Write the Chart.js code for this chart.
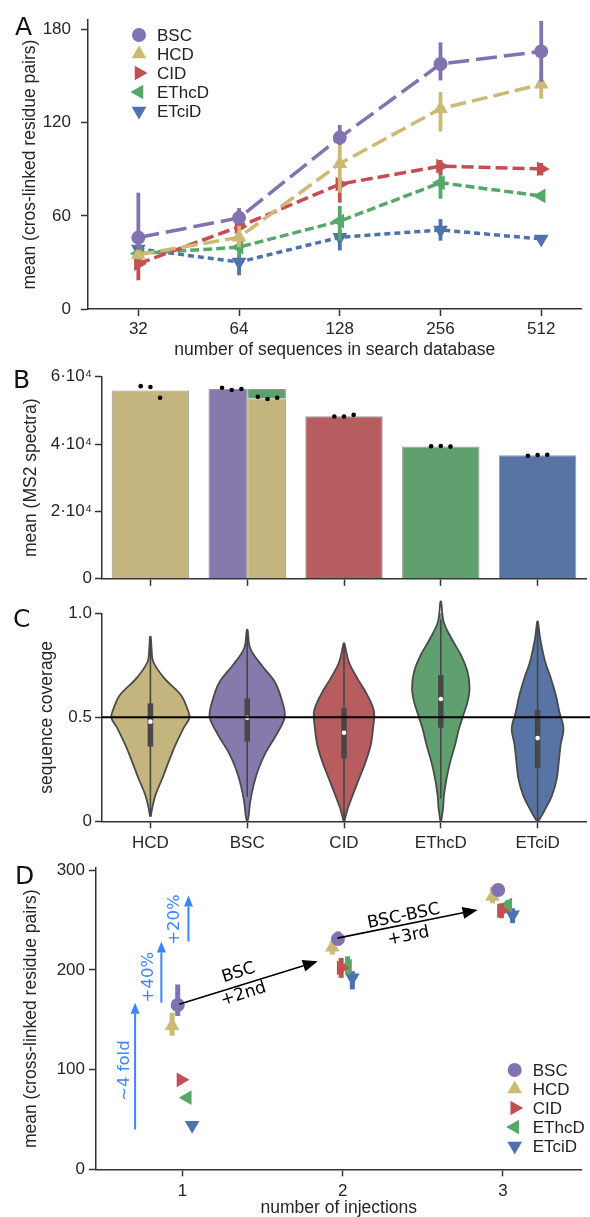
<!DOCTYPE html>
<html><head><meta charset="utf-8">
<script src="https://cdn.jsdelivr.net/npm/chart.js@4.4.1/dist/chart.umd.min.js"></script>
<style>
html,body{margin:0;padding:0;background:#fff;width:590px;height:1217px;overflow:hidden;position:relative;}
canvas{position:absolute;left:0;}
</style></head><body>
<canvas id="cA" width="590" height="360" style="top:0px"></canvas>
<canvas id="cB" width="590" height="232" style="top:360px"></canvas>
<canvas id="cC" width="590" height="262" style="top:592px"></canvas>
<canvas id="cD" width="590" height="363" style="top:854px"></canvas>
<script>
// ================= DATA =================
const methods = ['BSC','HCD','CID','EThcD','ETciD'];
const lineColors = ['#8172B2','#CCB974','#C44E52','#55A868','#4C72B0'];
const markerStyles = ['circle','triangle','triangle','triangle','triangle'];
const markerRot = [0,0,90,270,180];
const markerRadius = [7,8.5,8.5,8.5,8.5];
const dashes = [[21,7],[16,6],[12,5],[9,4],[6,4]];

// Panel A
const dbSizes = ['32','64','128','256','512'];
const yTicksA = [0,60,120,180];
const bscA   = [46.0, 58.7, 110.4, 157.8, 165.9];
const bscALo = [38.0, 55.0, 105.7, 147.2, 146.3];
const bscAHi = [74.9, 65.0, 118.5, 171.7, 185.5];
const hcdA   = [35.0, 46.2, 93.6, 129.0, 144.7];
const hcdALo = [32.0, 39.8, 74.9, 114.3, 135.5];
const hcdAHi = [38.5, 53.6, 111.0, 139.8, 153.6];
const cidA   = [29.2, 53.0, 80.4, 92.0, 90.2];
const cidALo = [18.5, 46.0, 68.5, 86.6, 86.0];
const cidAHi = [40.8, 63.0, 84.4, 96.0, 94.0];
const ethcdA   = [35.7, 39.8, 56.6, 81.3, 72.8];
const ethcdALo = [29.0, 33.4, 44.0, 71.0, 71.0];
const ethcdAHi = [45.0, 44.0, 66.4, 95.0, 74.5];
const etcidA   = [38.7, 30.2, 46.2, 50.9, 45.1];
const etcidALo = [36.0, 21.7, 37.7, 44.0, 43.5];
const etcidAHi = [41.0, 33.4, 50.4, 57.9, 46.5];

// Panel B
const barCats = ['HCD','BSC','CID','EThcD','ETciD'];
const barColors = ['#C4B47E','#857AAB','#B75C5F','#60A06F','#5874A4'];
const ms2Mean = [55870, null, 48280, 39250, 36650];
const ms2BscMean = 56360;
const ms2BscHcdPart = 53560;
const ms2BscEthcdPart = 2800;
const ms2Reps = [[57200,56960,53770],[56740,56070,56360],[48190,48190,48660],[39340,39420,39250],[36540,36740,36830]];
const ms2BscHcdReps = [54060,53390,53770];
const yTicksB = [0,20000,40000,60000];
const yTickLabelsB = ['0','2·10⁴','4·10⁴','6·10⁴'];

// Panel C (violin outlines: coverage levels and half-widths in category units)
const violinCats = ['HCD','BSC','CID','EThcD','ETciD'];
const hcdLv = [0.022,0.062,0.126,0.207,0.287,0.367,0.447,0.498,0.543,0.607,0.687,0.767,0.83,0.887];
const hcdW  = [0.004,0.018,0.052,0.124,0.189,0.259,0.341,0.403,0.380,0.315,0.145,0.029,0.012,0.004];
const bscLv = [0.0,0.03,0.094,0.175,0.255,0.335,0.415,0.503,0.591,0.671,0.751,0.832,0.92];
const bscW  = [0.004,0.016,0.031,0.067,0.119,0.196,0.300,0.388,0.352,0.284,0.147,0.031,0.004];
const cidLv = [0.0,0.062,0.126,0.207,0.287,0.367,0.447,0.527,0.607,0.687,0.767,0.856];
const cidW  = [0.004,0.039,0.090,0.158,0.224,0.276,0.300,0.310,0.241,0.138,0.049,0.004];
const ethcdLv = [0.0,0.062,0.126,0.207,0.287,0.367,0.447,0.511,0.575,0.639,0.719,0.80,0.88,0.96,1.056];
const ethcdW  = [0.004,0.023,0.033,0.060,0.098,0.147,0.189,0.233,0.276,0.297,0.276,0.207,0.109,0.029,0.004];
const etcidLv = [0.0,0.014,0.062,0.126,0.207,0.287,0.367,0.447,0.527,0.607,0.687,0.767,0.88,0.96];
const etcidW  = [0.004,0.026,0.083,0.150,0.199,0.219,0.238,0.267,0.224,0.188,0.138,0.078,0.026,0.004];
const covQ1  = [0.359,0.383,0.303,0.450,0.255];
const covQ3  = [0.567,0.591,0.543,0.703,0.535];
const covMed = [0.479,0.498,0.426,0.588,0.400];
const covWLo = [0.03,0.118,0.0,0.11,0.0];
const covWHi = [0.87,0.90,0.84,0.97,0.94];
const refLine = 0.5;
const yTicksC = [0,0.5,1.0];
const yTickLabelsC = ['0','0.5','1.0'];

// Panel D
const injections = ['1','2','3'];
const dodgeD = [-0.03,-0.065,-0.01,0.03,0.06];
const bscD = [164.8,230.9,280.1], bscDLo = [153.8,225.3,276.5], bscDHi = [185.4,238.6,283.5];
const hcdD = [143.9,222.6,273.5], hcdDLo = [134.0,215.3,266.8], hcdDHi = [157.0,228.6,283.4];
const cidD = [89.7,202.0,259.2], cidDLo = [87.5,192.0,251.8], cidDHi = [92.0,212.0,266.8];
const ethcdD = [71.8,203.7,265.2], ethcdDLo = [70.5,195.4,258.5], ethcdDHi = [73.5,213.6,270.2];
const etcidD = [44.2,192.0,255.2], etcidDLo = [43.2,180.4,246.9], etcidDHi = [45.2,198.7,261.8];
const yTicksD = [0,100,200,300];
// annotations (data coordinates)
const blueArrowX   = [0.704, 0.868, 1.037];
const blueArrowY0  = [40, 167, 228.5];
const blueArrowY1  = [167, 228.5, 274.5];
const blueText     = ['~4 fold','+40%','+20%'];
const blueTextX    = [0.64, 0.79, 0.954];
const blueTextY    = [99, 192.7, 250.5];
const blackArrowFrom = [[0.979,165.5],[1.967,231.9]];
const blackArrowTo   = [[1.844,208.7],[2.842,260.2]];
const blackTextTop   = ['BSC','BSC-BSC'];
const blackTextBot   = ['+2nd','+3rd'];
const blackTopPos    = [[1.35,197],[2.38,253.6]];
const blackBotPos    = [[1.38,175.5],[2.41,233.7]];

// ================= STYLE / HELPERS =================
const LS = "'Liberation Sans', Arial, sans-serif";
const DJ = "'DejaVu Sans', sans-serif";
const AX = '#333333';
const TXT = '#262626';

const errorBars = {
  id: 'errorBars',
  beforeDatasetDraw(chart, args) {
    const ds = chart.data.datasets[args.index];
    if (!ds.errLo) return;
    const ys = chart.scales.y, ctx = chart.ctx;
    ctx.save();
    ctx.strokeStyle = ds.errColor;
    ctx.lineWidth = ds.errWidth;
    args.meta.data.forEach((pt, i) => {
      const lo = ds.errLo[i], hi = ds.errHi[i];
      if (lo == null) return;
      ctx.beginPath();
      ctx.moveTo(pt.x, ys.getPixelForValue(lo));
      ctx.lineTo(pt.x, ys.getPixelForValue(hi));
      ctx.stroke();
    });
    ctx.restore();
  }
};

const deco = {
  id: 'deco',
  afterDraw(chart, args, o) {
    const ctx = chart.ctx;
    ctx.save();
    if (o.letter) {
      ctx.font = `25px ${DJ}`; ctx.fillStyle = '#111';
      ctx.textBaseline = 'alphabetic'; ctx.textAlign = 'left';
      ctx.fillText(o.letter, o.lx, o.ly);
    }
    if (o.legend) {
      const L = o.legend;
      ctx.font = `17px ${LS}`; ctx.textBaseline = 'middle'; ctx.textAlign = 'left';
      methods.forEach((lab, i) => {
        const y = L.y + i * L.dy;
        ctx.fillStyle = lineColors[i];
        Chart.helpers.drawPoint(ctx, {pointStyle: markerStyles[i], rotation: markerRot[i], radius: markerRadius[i], borderWidth: 0}, L.mx, y);
        ctx.fillStyle = '#222';
        ctx.fillText(lab, L.tx, y + 1);
      });
    }
    ctx.restore();
  }
};

function xScale(min, max, labels, firstVal, height, pad, title, titlePad) {
  return {
    type: 'linear', min, max, offset: false,
    afterBuildTicks(s) { s.ticks = labels.map((_, i) => ({value: firstVal + i})); },
    afterFit(s) { s.height = height; },
    ticks: { autoSkip: false, maxRotation: 0, padding: pad, color: TXT,
             font: {family: LS, size: 17},
             callback: (v) => labels[Math.round(v - firstVal)] },
    grid: { display: true, offset: false, drawOnChartArea: false, drawTicks: true, tickLength: 7, tickWidth: 1.5, tickColor: AX, color: AX },
    border: { display: true, color: AX, width: 1.5 },
    title: title ? { display: true, text: title, color: TXT, font: {family: LS, size: 17.5, lineHeight: 1.0}, padding: {top: 0, bottom: titlePad} } : { display: false }
  };
}
function yScale(min, max, tickVals, tickLabels, width, pad, title, titlePad) {
  return {
    type: 'linear', min, max,
    afterBuildTicks(s) { s.ticks = tickVals.map(v => ({value: v})); },
    afterFit(s) { s.width = width; },
    ticks: { autoSkip: false, padding: pad, color: TXT, font: {family: LS, size: 17},
             callback: (v) => { const k = tickVals.indexOf(v); return k >= 0 ? tickLabels[k] : ''; } },
    grid: { display: true, drawOnChartArea: false, drawTicks: true, tickLength: 7, tickWidth: 1.5, tickColor: AX, color: AX },
    border: { display: true, color: AX, width: 1.5 },
    title: { display: true, text: title, color: TXT, font: {family: LS, size: 17.5, lineHeight: 1.2}, padding: {top: titlePad, bottom: 0} }
  };
}
const baseOpts = { responsive: false, animation: false, events: [], devicePixelRatio: 1 };

// ================= PANEL A =================
const aVals = [bscA, hcdA, cidA, ethcdA, etcidA];
const aLo = [bscALo, hcdALo, cidALo, ethcdALo, etcidALo];
const aHi = [bscAHi, hcdAHi, cidAHi, ethcdAHi, etcidAHi];
new Chart(document.getElementById('cA'), {
  type: 'line',
  data: { datasets: methods.map((m, k) => ({
    label: m,
    data: aVals[k].map((v, i) => ({x: i, y: v})),
    borderColor: lineColors[k], borderWidth: 3.5, borderDash: dashes[k], borderCapStyle: 'butt',
    pointStyle: markerStyles[k], pointRotation: markerRot[k], pointRadius: markerRadius[k],
    pointBackgroundColor: lineColors[k], pointBorderWidth: 0, fill: false, tension: 0, clip: false,
    errLo: aLo[k], errHi: aHi[k], errColor: lineColors[k], errWidth: 3.8
  })) },
  options: Object.assign({}, baseOpts, {
    layout: { padding: { top: 17.6, right: 4, left: 0, bottom: 0 } },
    scales: {
      x: xScale(-0.5, 4.4, dbSizes, 0, 51, 3, 'number of sequences in search database', 1.5),
      y: yScale(0, 186, yTicksA, yTicksA.map(String), 88, 10, 'mean (cros-linked residue pairs)', 19.5)
    },
    plugins: { legend: {display: false}, tooltip: {enabled: false},
      deco: { letter: 'A', lx: 15, ly: 35, legend: { y: 35, dy: 19, mx: 139, tx: 157 } } }
  }),
  plugins: [errorBars, deco]
});

// ================= PANEL B =================
const nullExcept = (idx, val) => barCats.map((_, i) => ({x: i, y: i === idx ? val : null}));
const dotJitter = [-0.1, 0, 0.1];
const dotPts = [];
ms2Reps.forEach((reps, i) => {
  const c = i === 1 ? i - 0.16 : i;
  reps.forEach((v, j) => dotPts.push({x: c + dotJitter[j], y: v}));
});
ms2BscHcdReps.forEach((v, j) => dotPts.push({x: 1.21 + dotJitter[j], y: v}));
const barBorder = 'rgba(110,110,110,0.7)';
new Chart(document.getElementById('cB'), {
  type: 'bar',
  data: { datasets: [
    { type: 'scatter', data: dotPts, pointRadius: 2.3, pointBackgroundColor: '#000', pointBorderWidth: 0, showLine: false, clip: false, order: 0 },
    { data: ms2Mean.map((v, i) => ({x: i, y: v})), backgroundColor: barColors, borderColor: barBorder, borderWidth: 1, stack: 'main', order: 1 },
    { data: nullExcept(1, ms2BscMean), backgroundColor: barColors[1], borderColor: barBorder, borderWidth: 1, stack: 'bsc', order: 2 },
    { data: nullExcept(1, ms2BscHcdPart), backgroundColor: barColors[0], borderColor: barBorder, borderWidth: 1, stack: 'split', order: 3 },
    { data: nullExcept(1, ms2BscEthcdPart), backgroundColor: barColors[3], borderColor: barBorder, borderWidth: 1, stack: 'split', order: 4 }
  ] },
  options: Object.assign({}, baseOpts, {
    skipNull: true,
    datasets: { bar: { categoryPercentage: 0.8, barPercentage: 1.0, grouped: true, skipNull: true } },
    layout: { padding: { top: 16.7, right: 4, left: 0, bottom: 0 } },
    scales: {
      x: xScale(-0.5, 4.5, barCats.map(() => ''), 0, 7.7, 0, null, 0),
      y: yScale(0, 60000, yTicksB, yTickLabelsB, 102, 3, 'mean (MS2 spectra)', 20.5)
    },
    plugins: { legend: {display: false}, tooltip: {enabled: false}, deco: { letter: 'B', lx: 13, ly: 28 } }
  }),
  plugins: [deco]
});

// ================= PANEL C =================
const violinLv = [hcdLv, bscLv, cidLv, ethcdLv, etcidLv];
const violinW = [hcdW, bscW, cidW, ethcdW, etcidW];
function violinOutline(center, lv, w) {
  const left = lv.map((y, i) => ({x: center - w[i], y}));
  const right = lv.map((y, i) => ({x: center + w[i], y})).reverse();
  return left.concat(right);
}
const violinBox = {
  id: 'violinBox',
  afterDatasetsDraw(chart) {
    const xs = chart.scales.x, ys = chart.scales.y, ctx = chart.ctx;
    ctx.save();
    ctx.lineCap = 'butt';
    covQ1.forEach((q1, i) => {
      const x = xs.getPixelForValue(i);
      ctx.strokeStyle = '#474747';
      ctx.lineWidth = 1.6;
      ctx.beginPath(); ctx.moveTo(x, ys.getPixelForValue(covWLo[i])); ctx.lineTo(x, ys.getPixelForValue(covWHi[i])); ctx.stroke();
      ctx.lineWidth = 5.5;
      ctx.beginPath(); ctx.moveTo(x, ys.getPixelForValue(q1)); ctx.lineTo(x, ys.getPixelForValue(covQ3[i])); ctx.stroke();
      ctx.fillStyle = '#fff';
      ctx.beginPath(); ctx.arc(x, ys.getPixelForValue(covMed[i]), 2.3, 0, Math.PI * 2); ctx.fill();
    });
    const y = ys.getPixelForValue(refLine);
    ctx.strokeStyle = '#000'; ctx.lineWidth = 2;
    ctx.beginPath(); ctx.moveTo(chart.chartArea.left, y); ctx.lineTo(chart.width, y); ctx.stroke();
    ctx.restore();
  }
};
new Chart(document.getElementById('cC'), {
  type: 'scatter',
  data: { datasets: violinCats.map((c, i) => ({
    label: c, data: violinOutline(i, violinLv[i], violinW[i]),
    showLine: true, fill: 'shape', backgroundColor: barColors[i], borderColor: '#4a4a4a', borderWidth: 1.8,
    pointRadius: 0, tension: 0.35, clip: false
  })) },
  options: Object.assign({}, baseOpts, {
    layout: { padding: { top: 21.3, right: 4, left: 0, bottom: 0 } },
    scales: {
      x: xScale(-0.5, 4.5, violinCats, 0, 32.7, 5, null, 0),
      y: yScale(0, 1.0, yTicksC, yTickLabelsC, 102, 3, 'sequence coverage', 36.5)
    },
    plugins: { legend: {display: false}, tooltip: {enabled: false}, deco: { letter: 'C', lx: 13, ly: 35 } }
  }),
  plugins: [violinBox, deco]
});

// ================= PANEL D =================
const dVals = [bscD, hcdD, cidD, ethcdD, etcidD];
const dLo = [bscDLo, hcdDLo, cidDLo, ethcdDLo, etcidDLo];
const dHi = [bscDHi, hcdDHi, cidDHi, ethcdDHi, etcidDHi];
function drawArrow(ctx, x0, y0, x1, y1, color, lw, hl, hw) {
  const a = Math.atan2(y1 - y0, x1 - x0);
  const bx = x1 - hl * Math.cos(a), by = y1 - hl * Math.sin(a);
  ctx.strokeStyle = color; ctx.lineWidth = lw;
  ctx.beginPath(); ctx.moveTo(x0, y0); ctx.lineTo(bx, by); ctx.stroke();
  ctx.fillStyle = color;
  ctx.beginPath();
  ctx.moveTo(x1, y1);
  ctx.lineTo(bx + hw * Math.sin(a), by - hw * Math.cos(a));
  ctx.lineTo(bx - hw * Math.sin(a), by + hw * Math.cos(a));
  ctx.closePath(); ctx.fill();
  return a;
}
function rotText(ctx, txt, x, y, ang) {
  ctx.save(); ctx.translate(x, y); ctx.rotate(ang);
  ctx.textAlign = 'center'; ctx.textBaseline = 'middle';
  ctx.fillText(txt, 0, 0); ctx.restore();
}
const annot = {
  id: 'annot',
  afterDatasetsDraw(chart) {
    const xs = chart.scales.x, ys = chart.scales.y, ctx = chart.ctx;
    ctx.save();
    const blue = '#3A84FF';
    blueArrowX.forEach((x, i) => {
      drawArrow(ctx, xs.getPixelForValue(x), ys.getPixelForValue(blueArrowY0[i]), xs.getPixelForValue(x), ys.getPixelForValue(blueArrowY1[i]), blue, 2, 11, 4.5);
      ctx.fillStyle = blue; ctx.font = `16.5px ${DJ}`;
      rotText(ctx, blueText[i], xs.getPixelForValue(blueTextX[i]), ys.getPixelForValue(blueTextY[i]), -Math.PI / 2);
    });
    blackArrowFrom.forEach((f, i) => {
      const t = blackArrowTo[i];
      const a = drawArrow(ctx, xs.getPixelForValue(f[0]), ys.getPixelForValue(f[1]), xs.getPixelForValue(t[0]), ys.getPixelForValue(t[1]), '#000', 1.6, 15, 6);
      ctx.fillStyle = '#000'; ctx.font = `17px ${DJ}`;
      rotText(ctx, blackTextTop[i], xs.getPixelForValue(blackTopPos[i][0]), ys.getPixelForValue(blackTopPos[i][1]), a);
      rotText(ctx, blackTextBot[i], xs.getPixelForValue(blackBotPos[i][0]), ys.getPixelForValue(blackBotPos[i][1]), a);
    });
    ctx.restore();
  }
};
new Chart(document.getElementById('cD'), {
  type: 'scatter',
  data: { datasets: methods.map((m, k) => ({
    label: m,
    data: dVals[k].map((v, i) => ({x: i + 1 + dodgeD[k], y: v})),
    pointStyle: markerStyles[k], pointRotation: markerRot[k], pointRadius: markerRadius[k],
    pointBackgroundColor: lineColors[k], pointBorderWidth: 0, showLine: false, clip: false,
    errLo: dLo[k], errHi: dHi[k], errColor: lineColors[k], errWidth: 5
  })) },
  options: Object.assign({}, baseOpts, {
    layout: { padding: { top: 12.4, right: 4, left: 0, bottom: 0 } },
    scales: {
      x: xScale(0.46, 3.49, injections, 1, 47.7, 5, 'number of injections', 0),
      y: yScale(0, 302, yTicksD, yTicksD.map(String), 96, 4, 'mean (cross-linked residue pairs)', 20.5)
    },
    plugins: { legend: {display: false}, tooltip: {enabled: false},
      deco: { letter: 'D', lx: 15, ly: 30, legend: { y: 216, dy: 19, mx: 514.7, tx: 532.7 } } }
  }),
  plugins: [errorBars, annot, deco]
});
</script>
</body></html>
